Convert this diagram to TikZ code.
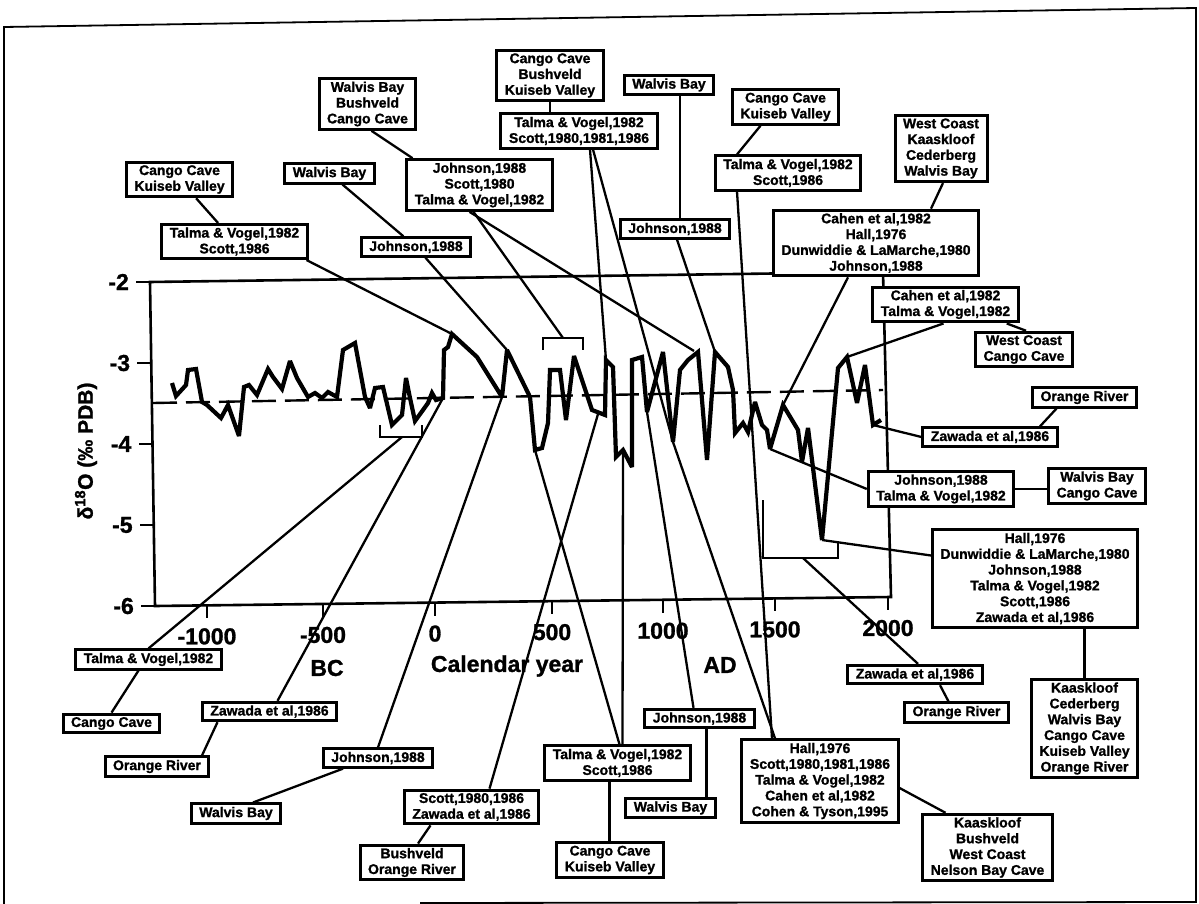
\documentclass[tikz,border=0pt]{standalone}
\usepackage{fontspec}
\setmainfont{Liberation Sans}[BoldFeatures={FakeBold=1.2}]
\usetikzlibrary{calc}
\newcommand\tagfont{\fontsize{14}{15.8}\selectfont\bfseries}
\newcommand\tickfont{\fontsize{23}{25}\selectfont\bfseries}
\newcommand\ylabfont{\fontsize{21}{23}\selectfont\bfseries}
\tikzset{
  refbox/.style={draw, line width=3pt, fill=white, align=center,
    inner xsep=8pt, inner ysep=3pt, font=\tagfont},
  link/.style={line width=2.3pt},
  datacurve/.style={line width=4.2pt, line join=miter, miter limit=3},
  axisline/.style={line width=2.6pt},
  meanline/.style={line width=2.4pt, dash pattern=on 24pt off 9pt},
  axislabel/.style={font=\tickfont, inner sep=1pt},
}

\begin{document}
\begin{tikzpicture}[x=1pt, y=-1pt]
  \useasboundingbox (0,0) rectangle (1199,904);

  % page frame (scan is tilted a little)
  \draw[line width=1.8pt] (4,904) -- (4,27) -- (1196,8) -- (1196,902) -- (420,903);

  % plot frame and ticks
  \draw[axisline] (150,282) -- (155,606) -- (891,597) -- (883,272) -- cycle;
  \foreach \v/\yv [count=\i] in {-2/282,-3/363,-4/444,-5/525,-6/606} {
    \pgfmathsetmacro\xv{150+(\yv-282)*5/324}
    \draw[axisline] (\xv,\yv) -- (\xv-14,\yv);
    \node[axislabel, anchor=east] (yl\i) at (\xv-20,\yv) {\v};
  }
  \foreach \xv/\lab [count=\i] in {207/-1000,323/-500,435/0,552/500,663/1000,775/1500,888/2000} {
    \pgfmathsetmacro\yv{606-(\xv-155)*9/736}
    \draw[axisline] (\xv,\yv) -- (\xv,\yv+13);
    \node[axislabel] (xl\i) at (\xv,\yv+31) {\lab};
  }
  \node[axislabel] (bc) at (327,668) {BC};
  \node[axislabel] (calyr) at (507,666) {Calendar year};
  \node[axislabel] (ad) at (720,665) {AD};
  \node[font=\ylabfont, rotate=90] (ylab) at (86,451) {δ\textsuperscript{18}O (‰ PDB)};

  % mean and the isotope record
  \draw[meanline] (153,403) -- (883,390);
  \draw[datacurve] (172,383) -- (176,396) -- (186,385) -- (188,370) -- (196,369)
    -- (202,402) -- (207,405) -- (221,418) -- (228,405) -- (239,436) -- (244,387)
    -- (249,385) -- (257,395) -- (268,369) -- (273,377) -- (282,389) -- (290,361)
    -- (297,378) -- (308,397) -- (315,393) -- (322,398) -- (328,392) -- (337,397)
    -- (343,350) -- (355,343) -- (365,397) -- (370,408) -- (375,388) -- (383,387)
    -- (392,425) -- (402,415) -- (406,378) -- (410,398) -- (415,421) -- (423,410)
    -- (428,403) -- (432,393) -- (436,400) -- (443,398) -- (444,350) -- (448,347)
    -- (452,334) -- (477,357) -- (502,397) -- (507,350) -- (530,397) -- (535,450)
    -- (542,448) -- (548,423) -- (550,370) -- (560,370) -- (566,420) -- (574,356)
    -- (592,410) -- (605,415) -- (606,360) -- (613,367) -- (616,457) -- (623,450)
    -- (632,467) -- (632,360) -- (642,357) -- (647,412) -- (663,352) -- (673,442)
    -- (680,370) -- (688,360) -- (698,352) -- (707,460) -- (715,352) -- (728,367)
    -- (733,390) -- (735,433) -- (743,423) -- (748,432) -- (755,402) -- (762,425)
    -- (767,430) -- (770,449) -- (783,405) -- (798,430) -- (802,462) -- (808,428)
    -- (822,540) -- (838,368) -- (847,357) -- (857,403) -- (865,365) -- (873,425)
    -- (881,420);

  % points of the record that are referred to
  \coordinate (P1) at (452,334);
  \coordinate (P2) at (507,350);
  \coordinate (P3) at (694,351);
  \coordinate (P4) at (606,360);
  \coordinate (P5) at (673,442);
  \coordinate (P6) at (715,352);
  \coordinate (P7) at (783,405);
  \coordinate (P8) at (847,357);
  \coordinate (P9) at (873,425);
  \coordinate (P10) at (770,449);
  \coordinate (P11) at (647,412);
  \coordinate (P12) at (535,450);
  \coordinate (P13) at (623,452);
  \coordinate (P14) at (598,414);
  \coordinate (P15) at (502,397);
  \coordinate (P16) at (443,398);
  \coordinate (Pmin) at (822,540);

  % brackets
  \draw[link] (543,350) -- (543,338) -- (583,338) -- (583,350);
  \coordinate (B1) at (563,338);
  \draw[link] (380,425) -- (380,437) -- (422,437) -- (422,425);
  \coordinate (B2) at (402,437);
  \draw[link] (763,500) -- (763,558) -- (838,558) -- (838,543);
  \coordinate (B3) at (803,558);

  % reference and site boxes, upper half
  \node[refbox] (cckv1) at (179.5,179.5) {Cango Cave\\Kuiseb Valley};
  \node[refbox] (tvs1) at (234.5,241.5) {Talma \& Vogel,1982\\Scott,1986};
  \node[refbox] (wb1) at (329.5,173.5) {Walvis Bay};
  \node[refbox] (jn1) at (416,247) {Johnson,1988};
  \node[refbox] (wbc) at (367.5,104) {Walvis Bay\\Bushveld\\Cango Cave};
  \node[refbox] (jst) at (479.5,185) {Johnson,1988\\Scott,1980\\Talma \& Vogel,1982};
  \node[refbox] (cbk) at (550,75.5) {Cango Cave\\Bushveld\\Kuiseb Valley};
  \node[refbox] (tvs2) at (579,131) {Talma \& Vogel,1982\\Scott,1980,1981,1986};
  \node[refbox] (wb2) at (669,85) {Walvis Bay};
  \node[refbox] (jn2) at (675,229) {Johnson,1988};
  \node[refbox] (cckv2) at (785.5,107) {Cango Cave\\Kuiseb Valley};
  \node[refbox] (tvs3) at (788,173) {Talma \& Vogel,1982\\Scott,1986};
  \node[refbox] (wckc) at (941,148.5) {West Coast\\Kaaskloof\\Cederberg\\Walvis Bay};
  \node[refbox] (chdj) at (876,243) {Cahen et al,1982\\Hall,1976\\Dunwiddie \& LaMarche,1980\\Johnson,1988};
  \node[refbox] (ctv) at (945.5,304.5) {Cahen et al,1982\\Talma \& Vogel,1982};
  \node[refbox] (wccc) at (1024,349.5) {West Coast\\Cango Cave};
  \node[refbox] (or1) at (1084.5,397.5) {Orange River};
  \node[refbox] (zw1) at (990,437) {Zawada et al,1986};
  \node[refbox] (jtv) at (941,489) {Johnson,1988\\Talma \& Vogel,1982};
  \node[refbox] (wbcc) at (1097,486) {Walvis Bay\\Cango Cave};
  \node[refbox] (hall2) at (1035,578.5) {Hall,1976\\Dunwiddie \& LaMarche,1980\\Johnson,1988\\Talma \& Vogel,1982\\Scott,1986\\Zawada et al,1986};

  % lower half
  \node[refbox] (sites6) at (1084.5,728.5) {Kaaskloof\\Cederberg\\Walvis Bay\\Cango Cave\\Kuiseb Valley\\Orange River};
  \node[refbox] (kbwn) at (987.5,847.5) {Kaaskloof\\Bushveld\\West Coast\\Nelson Bay Cave};
  \node[refbox] (hall1) at (820,781) {Hall,1976\\Scott,1980,1981,1986\\Talma \& Vogel,1982\\Cahen et al,1982\\Cohen \& Tyson,1995};
  \node[refbox] (zw2) at (915,674.5) {Zawada et al,1986};
  \node[refbox] (or2) at (956.5,712.5) {Orange River};
  \node[refbox] (jn3) at (699.5,718.5) {Johnson,1988};
  \node[refbox] (wb3) at (670.5,808) {Walvis Bay};
  \node[refbox] (tvs4) at (617.5,763) {Talma \& Vogel,1982\\Scott,1986};
  \node[refbox] (cckv3) at (610,860) {Cango Cave\\Kuiseb Valley};
  \node[refbox] (sz) at (471.5,807) {Scott,1980,1986\\Zawada et al,1986};
  \node[refbox] (bor) at (412,862.5) {Bushveld\\Orange River};
  \node[refbox] (jn4) at (378,758) {Johnson,1988};
  \node[refbox] (wb4) at (236,813.5) {Walvis Bay};
  \node[refbox] (zw3) at (269.5,711.5) {Zawada et al,1986};
  \node[refbox] (or3) at (157,766.5) {Orange River};
  \node[refbox] (tv5) at (148.5,659.5) {Talma \& Vogel,1982};
  \node[refbox] (cc) at (111.5,723.5) {Cango Cave};

  % connectors
  \draw[link] (cckv1) -- (tvs1);
  \draw[link] ([xshift=72pt]tvs1.south) -- (P1);
  \draw[link] (wb1) -- (jn1);
  \draw[link] (jn1) -- (P2);
  \draw[link] ([xshift=4pt]wbc.south) -- ([xshift=-67pt]jst.north);
  \draw[link] ([xshift=-6pt]jst.south) -- (B1);
  \draw[link] ([xshift=-10pt]jst.south) -- (P3);
  \draw[link] (cbk) -- (cbk |- tvs2.north);
  \draw[link] ([xshift=11pt]tvs2.south) -- (P4);
  \draw[link] ([xshift=14pt]tvs2.south) -- (P5) -- ([xshift=-45pt]hall1.north);
  \draw[link] ([xshift=11pt]wb2.south) -- ([xshift=11pt]wb2.south |- jn2.north);
  \draw[link] ([xshift=2pt]jn2.south) -- (P6);
  \draw[link] ([xshift=-25pt]cckv2.south) -- ([xshift=-51pt]tvs3.north);
  \draw[link] ([xshift=-51pt]tvs3.south) -- ([xshift=-48pt]hall1.north);
  \draw[link] ([xshift=2pt]wckc.south) -- ([xshift=55pt]chdj.north);
  \draw[link] ([xshift=-28pt]chdj.south) -- (P7);
  \draw[link] ([xshift=-2pt]ctv.south) -- (P8);
  \draw[link] ([xshift=-13pt]ctv.south east) -- ([xshift=52pt]wccc.north west);
  \draw[link] ([xshift=-28pt]or1.south) -- ([xshift=50pt]zw1.north);
  \draw[link] (zw1.west) -- (P9);
  \draw[link] (jtv.west) -- (P10);
  \draw[link] (jtv.east) -- (jtv.east -| wbcc.west);
  \draw[link] (Pmin) -- ([yshift=23pt]hall2.west);
  \draw[link] (hall2.south -| sites6.north) -- (sites6.north);
  \draw[link] ([yshift=-7pt]hall1.east) -- ([xshift=-42pt]kbwn.north);
  \draw[link] (B3) -- ([xshift=3pt]zw2.north);
  \draw[link] ([xshift=25pt]zw2.south) -- ([xshift=-8pt]or2.north);
  \draw[link] ([xshift=-6pt]jn3.north) -- (P11);
  \draw[link] ([xshift=7pt]jn3.south) -- ([xshift=7pt]jn3.south |- wb3.north);
  \draw[link] ([xshift=2pt]tvs4.north) -- (P12);
  \draw[link] ([xshift=5pt]tvs4.north) -- (P13);
  \draw[link] ([xshift=-8pt]tvs4.south) -- ([xshift=-8pt]tvs4.south |- cckv3.north);
  \draw[link] ([xshift=18pt]sz.north) -- (P14);
  \draw[link] ([xshift=-41pt]sz.south) -- ([xshift=6pt]bor.north);
  \draw[link] (jn4.north) -- (P15);
  \draw[link] ([xshift=-35pt]jn4.south) -- ([xshift=17pt]wb4.north);
  \draw[link] ([xshift=8pt]zw3.north) -- (P16);
  \draw[link] ([xshift=-52pt]zw3.south) -- ([xshift=45pt]or3.north);
  \draw[link] (tv5.north) -- (B2);
  \draw[link] ([xshift=-10pt]tv5.south) -- (cc.north);
\end{tikzpicture}
\end{document}
